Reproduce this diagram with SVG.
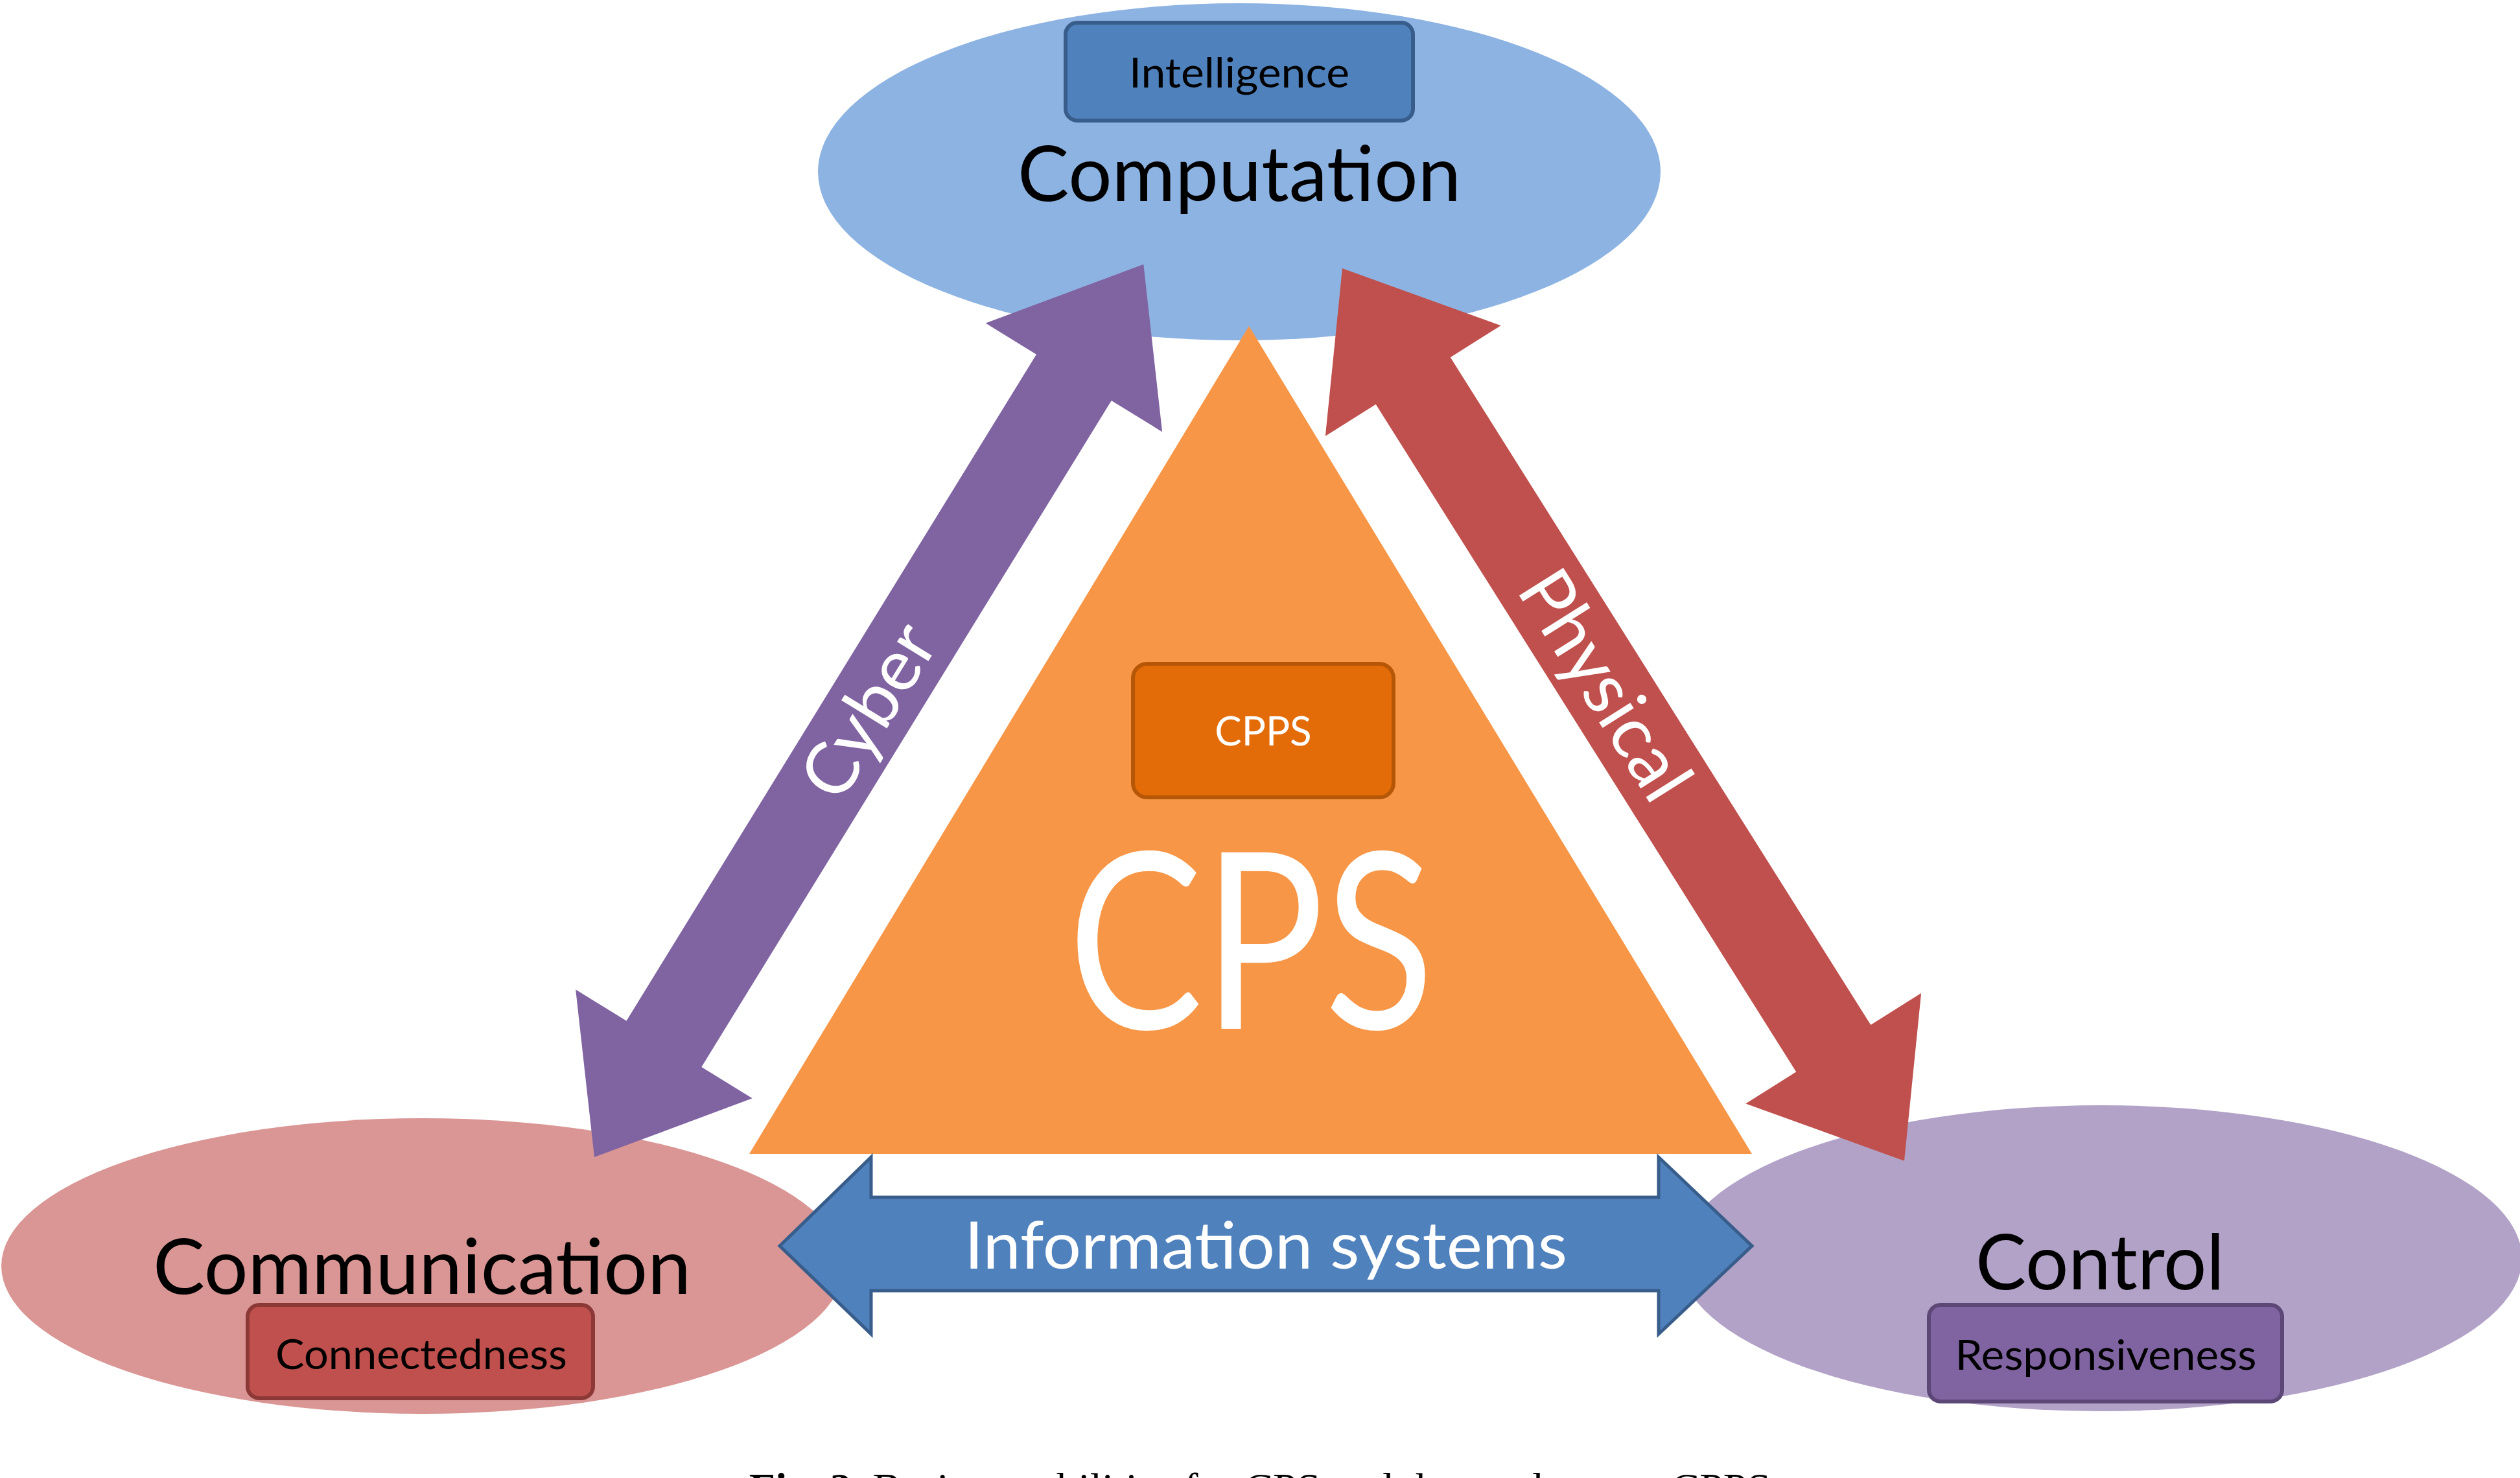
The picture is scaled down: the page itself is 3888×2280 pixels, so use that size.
<svg xmlns="http://www.w3.org/2000/svg" width="3888" height="2280" viewBox="0 0 3888 2280">
<style>
text{font-family:Lato,"Open Sans","Liberation Sans",sans-serif;text-anchor:middle}
.big{font-size:118px;fill:#000}
.sm{font-size:64px;fill:#000}
.w{fill:#fff}
.cap{font-family:"Liberation Serif",serif;font-size:66px;fill:#000}
</style>
<rect width="3888" height="2280" fill="#fff"/>
<g id="computation">
<ellipse cx="1912" cy="265" rx="650" ry="260" fill="#8db3e2"/>
<rect x="1644" y="35" width="536" height="151" rx="18" fill="#4f81bd" stroke="#385d8a" stroke-width="6"/>
<text x="1912" y="135" class="sm" textLength="340" lengthAdjust="spacingAndGlyphs">Intelligence</text>
<text x="1912" y="310" class="big" textLength="684" lengthAdjust="spacingAndGlyphs">Computation</text>
</g>
<g id="communication">
<ellipse cx="652" cy="1953" rx="650" ry="228" fill="#d99694"/>
<rect x="382" y="2013" width="533" height="144" rx="18" fill="#c0504d" stroke="#8c3836" stroke-width="6"/>
<text x="650" y="2112" class="sm" textLength="450" lengthAdjust="spacingAndGlyphs">Connectedness</text>
<text x="651" y="1996" class="big" textLength="830" lengthAdjust="spacingAndGlyphs">Communication</text>
</g>
<g id="control">
<ellipse cx="3241" cy="1941" rx="650" ry="236" fill="#b2a2c7"/>
<rect x="2976" y="2013" width="545" height="149" rx="18" fill="#8064a2" stroke="#5c4776" stroke-width="6"/>
<text x="3249" y="2113" class="sm" textLength="465" lengthAdjust="spacingAndGlyphs">Responsiveness</text>
<text x="3240" y="1989" class="big" textLength="384" lengthAdjust="spacingAndGlyphs">Control</text>
</g>
<g id="cps">
<polygon points="1927,503 1156,1780 2703,1780" fill="#f79646"/>
<rect x="1748" y="1024" width="402" height="206" rx="22" fill="#e36c09" stroke="#b65708" stroke-width="6"/>
<text x="1949" y="1150" class="w" font-size="62">CPPS</text>
<text x="1930" y="1587" class="w" font-size="380" textLength="565" lengthAdjust="spacingAndGlyphs">CPS</text>
</g>
<g id="connectors">
<g id="cyber" transform="translate(917,1785) rotate(-58.4)">
<polygon points="0,0 205,-160 205,-68 1412,-68 1412,-160 1617,0 1412,160 1412,68 205,68 205,160" fill="#8064a2"/>
<text x="808" y="38" class="w" font-size="112">Cyber</text>
</g>
<g id="physical" transform="translate(2071,414) rotate(57.8)">
<polygon points="0,0 205,-160 205,-68 1422,-68 1422,-160 1627,0 1422,160 1422,68 205,68 205,160" fill="#c0504d"/>
<text x="760" y="38" class="w" font-size="112">Physical</text>
</g>
<g id="info">
<polygon points="1203,1922 1344,1785 1344,1847 2559,1847 2559,1785 2703,1922 2559,2058 2559,1991 1344,1991 1344,2058" fill="#4f81bd" stroke="#385d8a" stroke-width="5"/>
<text x="1953" y="1957" class="w" font-size="100" textLength="930" lengthAdjust="spacingAndGlyphs">Information systems</text>
</g>
</g>
<text x="1944" y="2318" class="cap"><tspan font-weight="bold">Fig. 2.</tspan> Basic capabilities for CPS and the roadmap to CPPS</text>
</svg>
